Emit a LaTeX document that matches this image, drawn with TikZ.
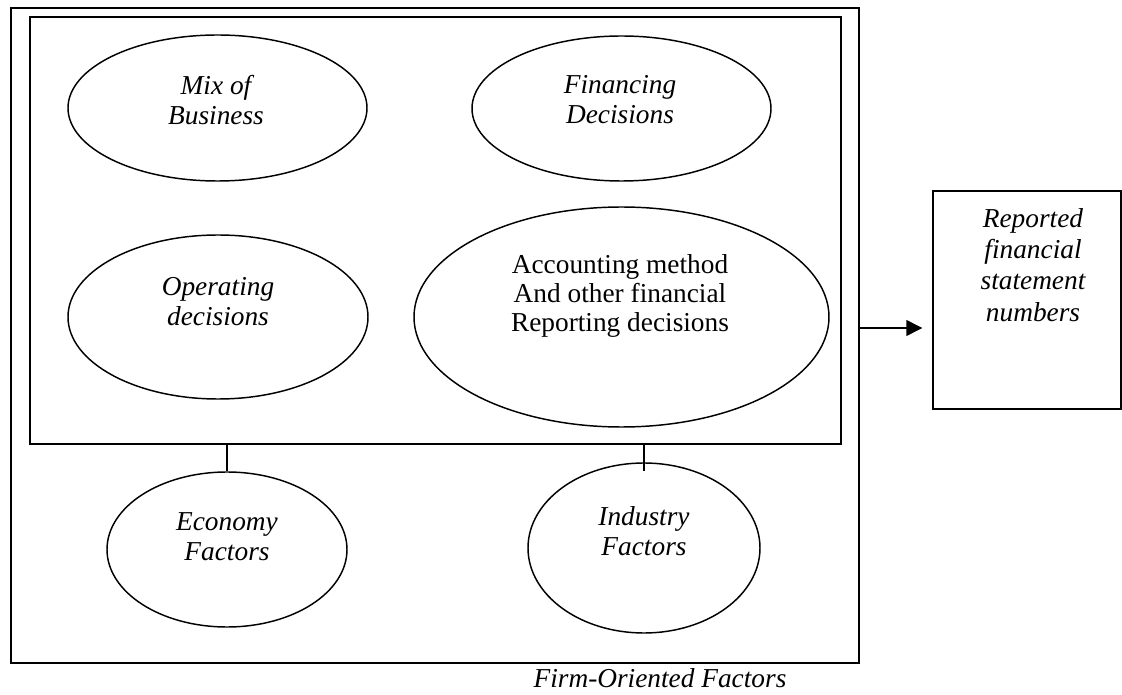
\documentclass[tikz,border=0pt]{standalone}
\usepackage{fontspec}
\setmainfont{Liberation Serif}
\usetikzlibrary{shapes.geometric,arrows.meta}
\begin{document}
\begin{tikzpicture}[x=0.75pt,y=-0.75pt,
  frame/.style={draw,line width=1.3pt,rectangle,inner sep=0pt},
  oval/.style={draw,line width=1.1pt,ellipse,inner sep=0pt},
  lbl/.style={align=center,font=\fontsize{20.5}{22.5}\selectfont\itshape,inner sep=0pt},
  link/.style={line width=1.1pt}]
\useasboundingbox (0,0) rectangle (1122,695);
% frames
\node[frame,minimum width=636pt,minimum height=491.25pt] (outer) at (435,335.5) {};
\node[frame,line width=1.1pt,minimum width=608.25pt,minimum height=320.25pt] (inner) at (435.5,230.5) {};
\node[frame,line width=1.1pt,minimum width=141pt,minimum height=163.5pt] (report) at (1027,300) {};
% ellipses
\node[oval,minimum width=224.25pt,minimum height=109.5pt] (mix) at (217.5,108) {};
\node[oval,minimum width=224.25pt,minimum height=108.75pt] (fin) at (621.5,108.5) {};
\node[oval,minimum width=225pt,minimum height=123pt] (oper) at (218,317) {};
\node[oval,minimum width=311.25pt,minimum height=165pt] (acc) at (621.5,317) {};
\node[oval,minimum width=180pt,minimum height=116.25pt] (econ) at (227,549.5) {};
\node[oval,minimum width=174pt,minimum height=127.5pt] (ind) at (644,548) {};
% labels
\node[lbl] (tmix) at (216,100) {Mix of\\Business};
\node[lbl] (tfin) at (620,100) {Financing\\Decisions};
\node[lbl] (toper) at (218,302) {Operating\\decisions};
\node[lbl,font=\fontsize{20.5}{21.75}\selectfont] (tacc) at (620,296) {Accounting method\\And other financial\\Reporting decisions};
\node[lbl] (tecon) at (227,537) {Economy\\Factors};
\node[lbl] (tind) at (644,531) {Industry\\Factors};
\node[lbl,font=\fontsize{20.5}{23.5}\selectfont\itshape] (trep) at (1033,265) {Reported\\financial\\statement\\numbers};
\node[lbl] (tfirm) at (660,678) {Firm-Oriented Factors};
% connectors
\draw[link] (inner.south -| econ.north) -- (econ.north);
\draw[link] (inner.south -| ind.north) -- ([yshift=-6.75pt]ind.north);
\coordinate (aout) at (859,328);
\draw[link,-{Triangle[length=12pt,width=12pt]},shorten >=7.5pt] (aout) -- (aout -| report.west);
\end{tikzpicture}
\end{document}
